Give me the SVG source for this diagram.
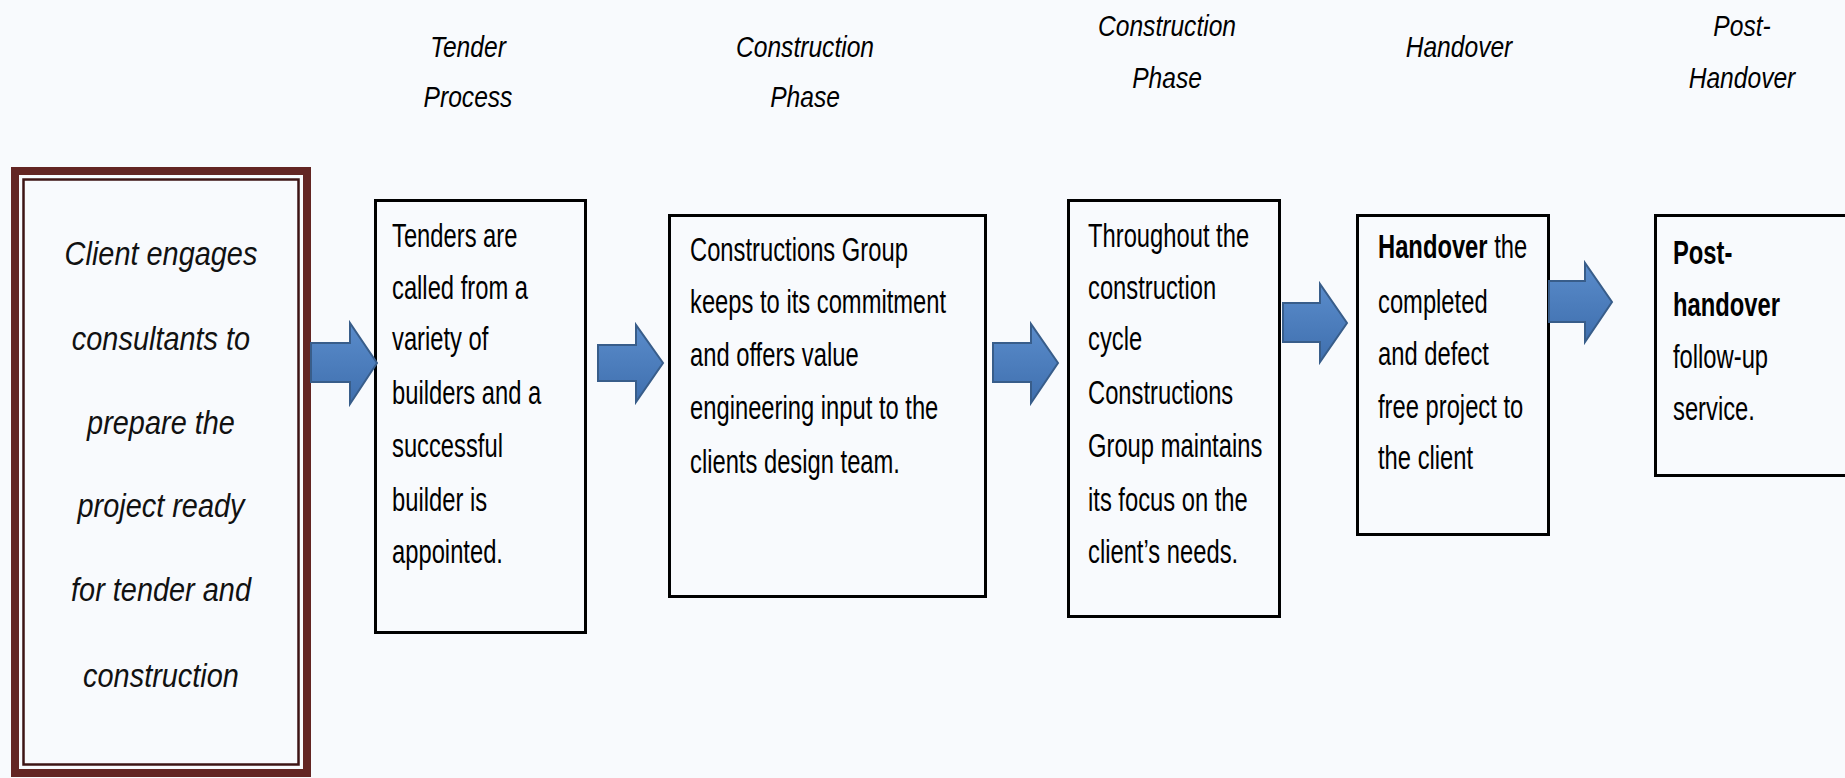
<svg xmlns="http://www.w3.org/2000/svg" width="1845" height="778" viewBox="0 0 1845 778">
<defs>
<linearGradient id="ag" x1="0" y1="0" x2="0" y2="1">
<stop offset="0" stop-color="#5a8ccb"/>
<stop offset="1" stop-color="#3f6fae"/>
</linearGradient>
<style>
.box{fill:#f8fafd;stroke:#000;stroke-width:3}
.arr{fill:url(#ag);stroke:#385d8a;stroke-width:2;stroke-linejoin:miter}
.t{font-family:"Liberation Sans",Arial,sans-serif;font-size:33px;fill:#000}
.h{font-family:"Liberation Sans",Arial,sans-serif;font-size:30px;font-style:italic;fill:#000;text-anchor:middle}
.c{font-family:"Liberation Sans",Arial,sans-serif;font-size:34px;font-style:italic;fill:#111;text-anchor:middle}
.bd{font-weight:bold}
</style>
</defs>
<rect width="1845" height="778" fill="#f8fafd"/>

<g id="headers">
<text class="h" transform="translate(468 0) scale(.82 1)"><tspan x="0" y="57">Tender</tspan><tspan x="0" y="107">Process</tspan></text>
<text class="h" transform="translate(805 0) scale(.82 1)"><tspan x="0" y="57">Construction</tspan><tspan x="0" y="107">Phase</tspan></text>
<text class="h" transform="translate(1167 0) scale(.82 1)"><tspan x="0" y="36">Construction</tspan><tspan x="0" y="88">Phase</tspan></text>
<text class="h" transform="translate(1459 0) scale(.82 1)"><tspan x="0" y="57">Handover</tspan></text>
<text class="h" transform="translate(1742 0) scale(.82 1)"><tspan x="0" y="36">Post-</tspan><tspan x="0" y="88">Handover</tspan></text>
</g>

<g id="node-client">
<rect x="15" y="171" width="292" height="602" fill="#f8fafd" stroke="#632523" stroke-width="8"/>
<rect x="23.5" y="179.5" width="275" height="585" fill="none" stroke="#3d1414" stroke-width="2.5"/>
<text class="c" transform="translate(161 0) scale(.85 1)"><tspan x="0" y="265">Client engages</tspan><tspan x="0" y="350">consultants  to</tspan><tspan x="0" y="434">prepare the</tspan><tspan x="0" y="517">project ready</tspan><tspan x="0" y="601">for tender and</tspan><tspan x="0" y="687">construction</tspan></text>
</g>

<g id="node-tender">
<rect class="box" x="375.5" y="200.5" width="210" height="432"/>
<text class="t" transform="translate(392 0) scale(.72 1)"><tspan x="0" y="247">Tenders are</tspan><tspan x="0" y="299">called from a</tspan><tspan x="0" y="350">variety of</tspan><tspan x="0" y="404">builders and a</tspan><tspan x="0" y="457">successful</tspan><tspan x="0" y="511">builder is</tspan><tspan x="0" y="563">appointed.</tspan></text>
</g>

<g id="node-construction">
<rect class="box" x="669.5" y="215.5" width="316" height="381"/>
<text class="t" transform="translate(690 0) scale(.72 1)"><tspan x="0" y="261">Constructions Group</tspan><tspan x="0" y="313">keeps to its commitment</tspan><tspan x="0" y="366">and offers value</tspan><tspan x="0" y="419">engineering input to the</tspan><tspan x="0" y="473">clients design team.</tspan></text>
</g>

<g id="node-throughout">
<rect class="box" x="1068.5" y="200.5" width="211" height="416"/>
<text class="t" transform="translate(1088 0) scale(.72 1)"><tspan x="0" y="247">Throughout the</tspan><tspan x="0" y="299">construction</tspan><tspan x="0" y="350">cycle</tspan><tspan x="0" y="404">Constructions</tspan><tspan x="0" y="457">Group maintains</tspan><tspan x="0" y="511">its focus on the</tspan><tspan x="0" y="563">client’s needs.</tspan></text>
</g>

<g id="node-handover">
<rect class="box" x="1357.5" y="215.5" width="191" height="319"/>
<text class="t" transform="translate(1378 0) scale(.72 1)"><tspan x="0" y="258"><tspan class="bd">Handover</tspan> the</tspan><tspan x="0" y="313">completed</tspan><tspan x="0" y="365">and defect</tspan><tspan x="0" y="418">free project to</tspan><tspan x="0" y="469">the client</tspan></text>
</g>

<g id="node-post">
<rect class="box" x="1655.5" y="215.5" width="200" height="260"/>
<text class="t" transform="translate(1673 0) scale(.72 1)"><tspan x="0" y="264" class="bd">Post-</tspan><tspan x="0" y="316" class="bd">handover</tspan><tspan x="0" y="368">follow-up</tspan><tspan x="0" y="420">service.</tspan></text>
</g>

<g id="connectors">
<path class="arr" d="M311,343 H350 V323 L377,363 L350,404 V382 H311 Z"/>
<path class="arr" d="M598,345 H636 V325 L663,363 L636,402 V381 H598 Z"/>
<path class="arr" d="M993,343 H1031 V324 L1058,363 L1031,403 V382 H993 Z"/>
<path class="arr" d="M1283,303 H1320 V284 L1347,323 L1320,362 V342 H1283 Z"/>
<path class="arr" d="M1549,281 H1585 V263 L1612,302 L1585,342 V322 H1549 Z"/>
</g>
</svg>
